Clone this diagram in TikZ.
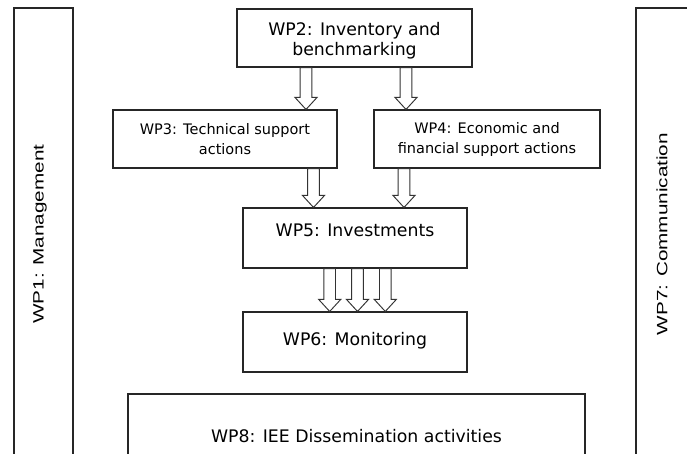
\documentclass[tikz,border=0pt]{standalone}
\usepackage{fontspec}
\setmainfont{DejaVu Sans}
\newfontfamily\sidefont[FakeStretch=1.38]{Liberation Sans}
\usetikzlibrary{calc}

\tikzset{
  wpbox/.style={draw=black!85, line width=1.1pt, fill=white, inner sep=0pt, align=center},
  bigtext/.style={font=\fontsize{17.3}{20}\selectfont},
  smalltext/.style={font=\fontsize{14.5}{20}\selectfont},
  sidetext/.style={font=\sidefont\fontsize{15}{17}\selectfont},
  hollow/.style={draw=black!80, line width=0.95pt, fill=white, line join=miter},
}

% hollow block arrow at horizontal position #1 (pt), from the bottom of #2 to the top of #3
\newcommand\hollowarrow[3]{%
  \path[hollow] let \p1=(#2.south), \p2=(#3.north) in
    (#1pt-5.8pt,\y1) -- (#1pt-5.8pt,\y2+12pt) -- (#1pt-11pt,\y2+12pt) -- (#1pt,\y2)
    -- (#1pt+11pt,\y2+12pt) -- (#1pt+5.8pt,\y2+12pt) -- (#1pt+5.8pt,\y1) -- cycle;}

\begin{document}
\begin{tikzpicture}[x=1pt, y=-1pt]
  \clip (0,0) rectangle (687,453);
  \fill[white] (0,0) rectangle (687,453);

  % side work packages
  \node[wpbox, sidetext, minimum width=59pt, minimum height=452pt] (wp1) at (43.5,234)
    {\hspace*{-7pt}\rotatebox{90}{WP1: Management}};
  \node[wpbox, sidetext, minimum width=59pt, minimum height=452pt] (wp7) at (665.5,234)
    {\hspace*{-7pt}\rotatebox{90}{WP7: Communication}};

  % central work packages
  \node[wpbox, bigtext, minimum width=235pt, minimum height=58pt, text height=39pt]
    (wp2) at (354.5,38) {WP2: Inventory and\\benchmarking};
  \node[wpbox, smalltext, minimum width=224pt, minimum height=58pt] (wp3) at (225,139)
    {WP3: Technical support\\actions};
  \node[wpbox, smalltext, minimum width=226pt, minimum height=58pt] (wp4) at (487,139)
    {WP4: Economic and\\financial support actions};
  \node[wpbox, bigtext, minimum width=224pt, minimum height=60pt,
        text height=13pt, text depth=17pt] (wp5) at (355,238) {WP5: Investments};
  \node[wpbox, bigtext, minimum width=224pt, minimum height=60pt,
        text height=13pt, text depth=7pt] (wp6) at (355,342) {WP6: Monitoring};
  \node[wpbox, bigtext, minimum width=457pt, minimum height=76pt,
        text height=24pt, text depth=4pt] (wp8) at (356.5,432) {WP8: IEE Dissemination activities};

  % flows between work packages
  \hollowarrow{306}{wp2}{wp3}
  \hollowarrow{406}{wp2}{wp4}
  \hollowarrow{313.5}{wp3}{wp5}
  \hollowarrow{404}{wp4}{wp5}
  \hollowarrow{329.7}{wp5}{wp6}
  \hollowarrow{357.5}{wp5}{wp6}
  \hollowarrow{385.3}{wp5}{wp6}
\end{tikzpicture}
\end{document}
